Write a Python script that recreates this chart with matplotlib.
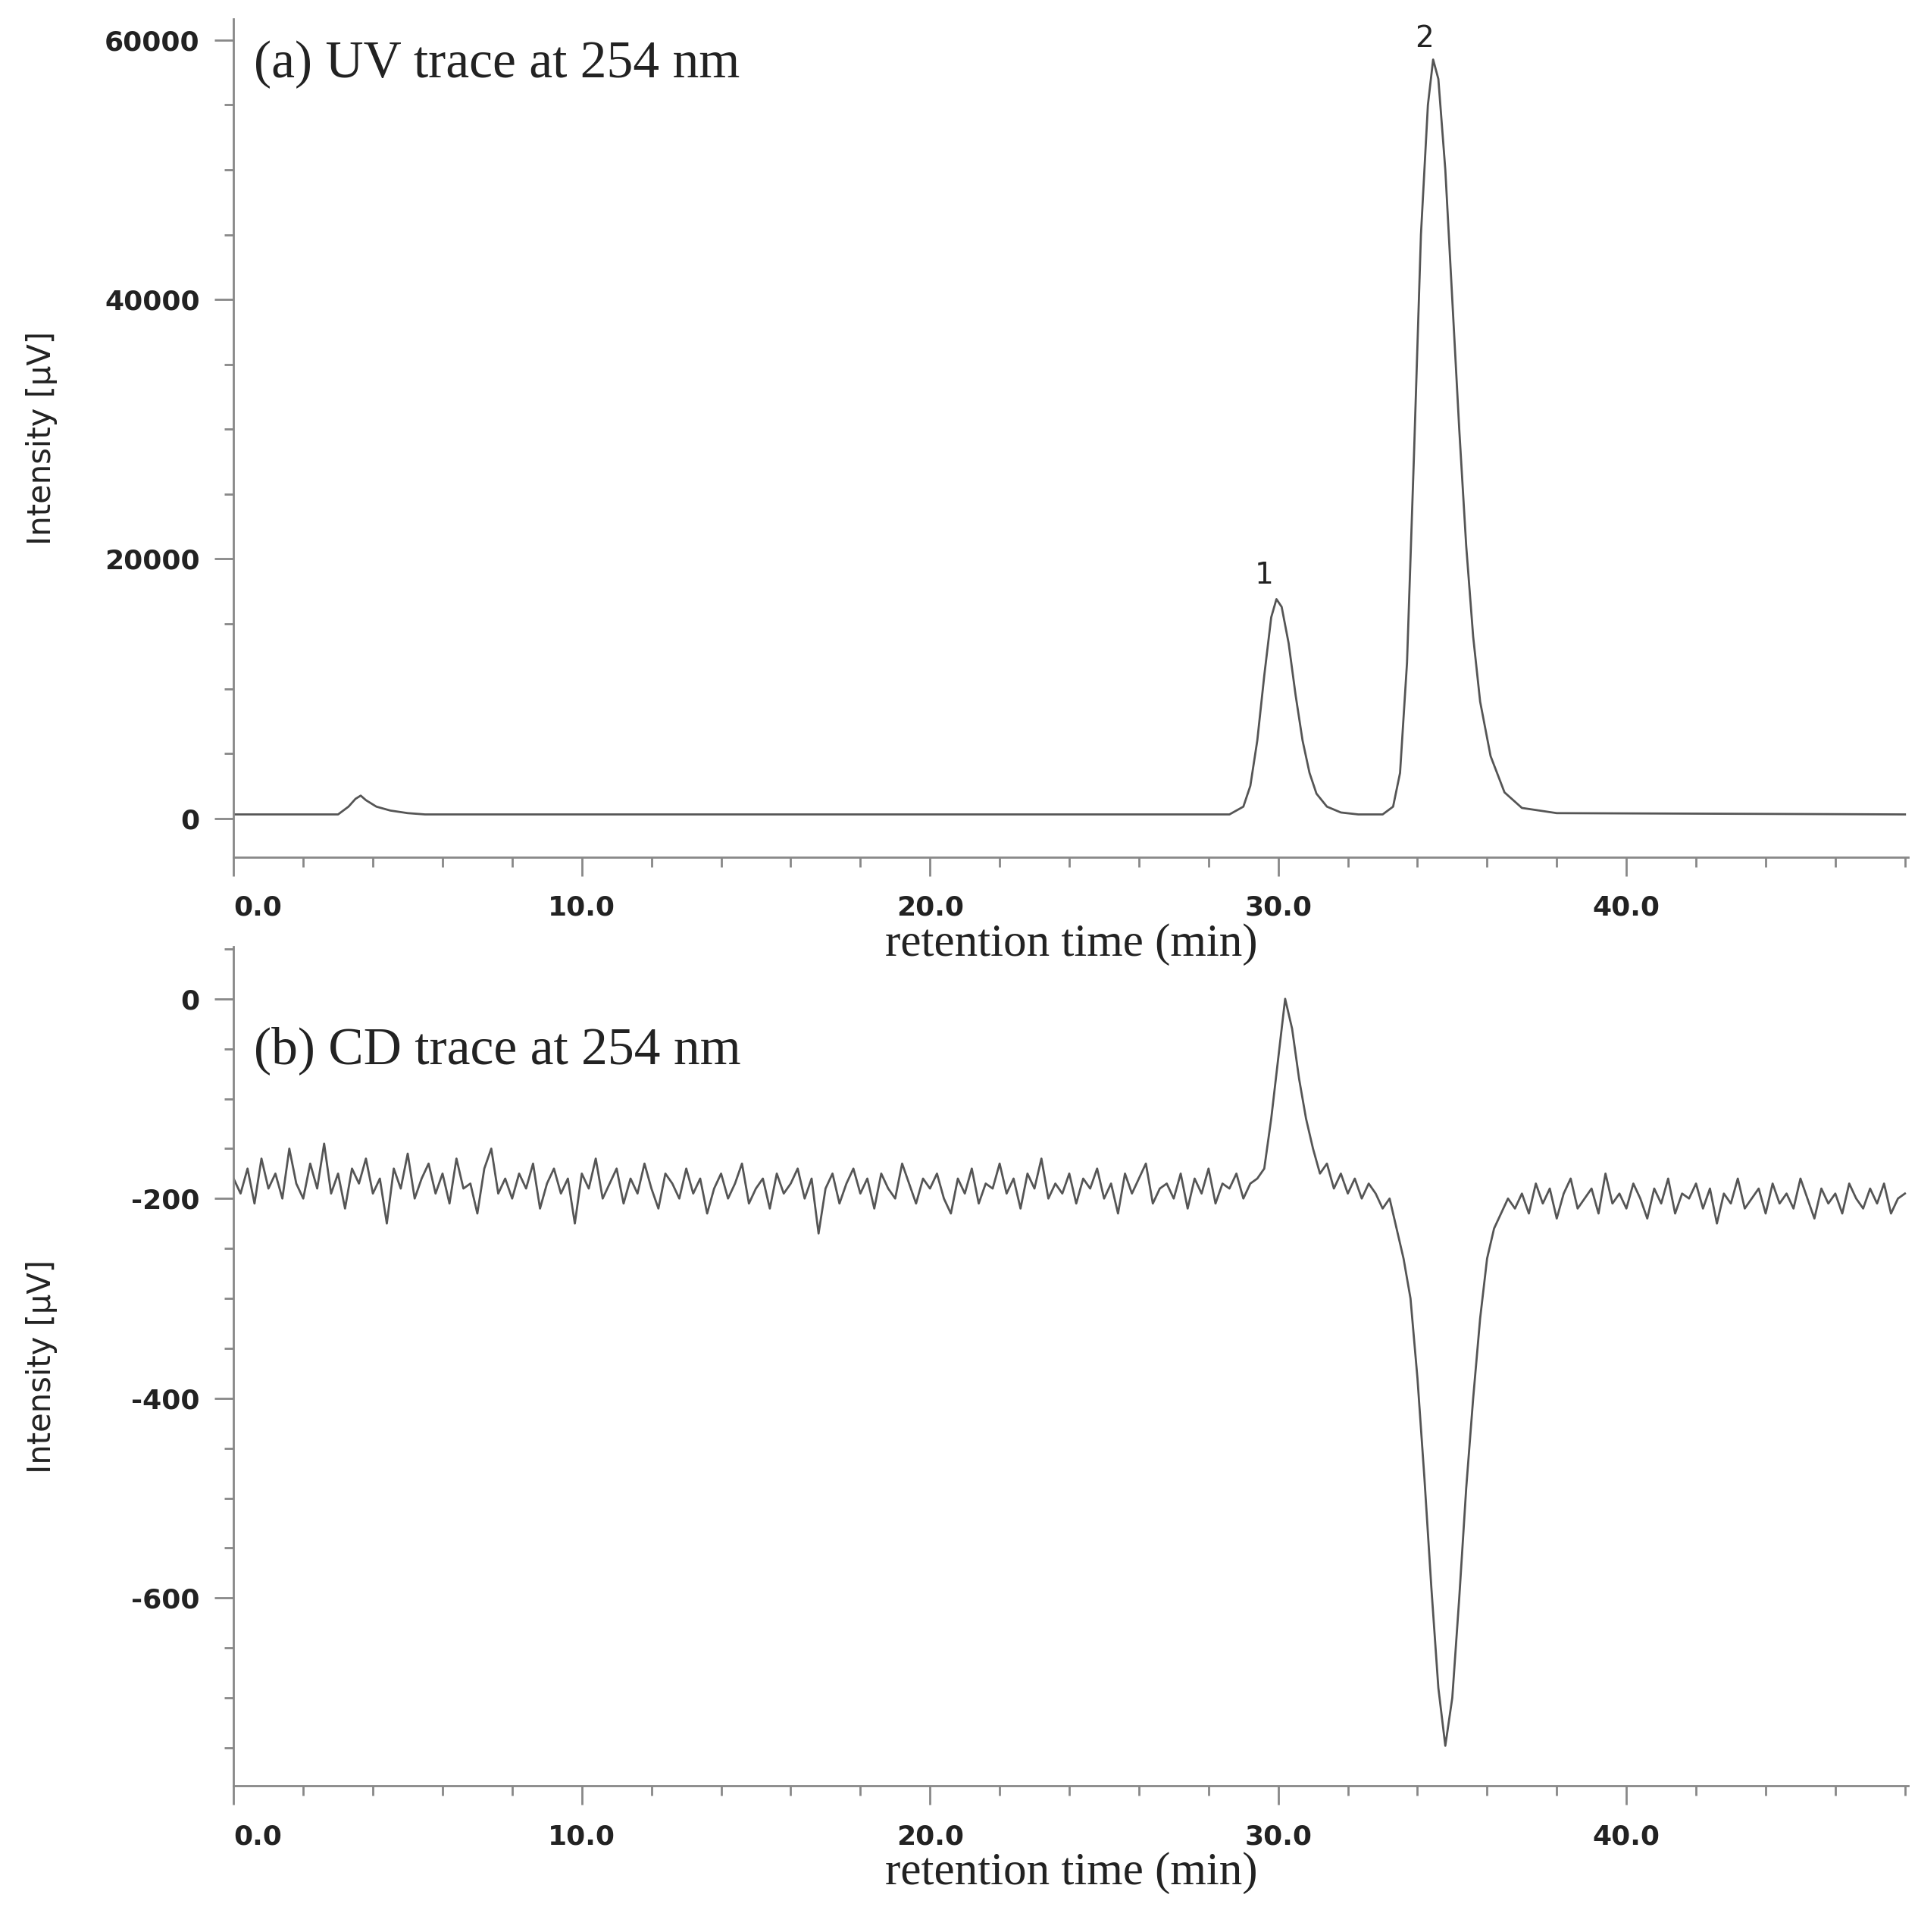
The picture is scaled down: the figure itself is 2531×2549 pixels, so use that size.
import numpy as np
import matplotlib
matplotlib.use("Agg")
import matplotlib.pyplot as plt
from matplotlib.ticker import MultipleLocator

plt.rcParams["axes.unicode_minus"] = False

uv_t = [0, 3.0, 3.3, 3.5, 3.65, 3.8, 4.1, 4.5, 5.0, 5.5, 28.6, 29.0, 29.2, 29.4, 29.6, 29.8, 29.95, 30.1, 30.3, 30.5, 30.7, 30.9, 31.1, 31.4, 31.8, 32.3, 33.0, 33.3, 33.5, 33.7, 33.9, 34.1, 34.3, 34.45, 34.6, 34.8, 35.0, 35.2, 35.4, 35.6, 35.8, 36.1, 36.5, 37.0, 38.0, 48.0]
uv_v = [300, 300, 900, 1500, 1750, 1400, 900, 600, 400, 300, 300, 900, 2500, 6000, 11000, 15500, 16900, 16300, 13500, 9500, 6000, 3500, 1900, 900, 450, 300, 300, 900, 3500, 12000, 28000, 45000, 55000, 58500, 57000, 50000, 40000, 30000, 21000, 14000, 9000, 4800, 2000, 800, 400, 300]

cd_step = 0.2
cd_v = [
-180,-195,-170,-205,-160,-190,-175,-200,-150,-185,
-200,-165,-190,-145,-195,-175,-210,-170,-185,-160,
-195,-180,-225,-170,-190,-155,-200,-180,-165,-195,
-175,-205,-160,-190,-185,-215,-170,-150,-195,-180,
-200,-175,-190,-165,-210,-185,-170,-195,-180,-225,
-175,-190,-160,-200,-185,-170,-205,-180,-195,-165,
-190,-210,-175,-185,-200,-170,-195,-180,-215,-190,
-175,-200,-185,-165,-205,-190,-180,-210,-175,-195,
-185,-170,-200,-180,-235,-190,-175,-205,-185,-170,
-195,-180,-210,-175,-190,-200,-165,-185,-205,-180,
-190,-175,-200,-215,-180,-195,-170,-205,-185,-190,
-165,-195,-180,-210,-175,-190,-160,-200,-185,-195,
-175,-205,-180,-190,-170,-200,-185,-215,-175,-195,
-180,-165,-205,-190,-185,-200,-175,-210,
-180,-195,-170,-205,-185,-190,-175,-200,-185,-180,
-170,-120,-60,0,-30,-80,-120,-150,-175,-165,
-190,-175,-195,-180,-200,-185,-195,-210,-200,-230,
-260,-300,-380,-480,-590,-690,-748,-700,-600,-490,
-400,-320,-260,-230,-215,-200,
-210,-195,-215,-185,-205,-190,-220,-195,-180,-210,
-200,-190,-215,-175,-205,-195,-210,-185,-200,-220,
-190,-205,-180,-215,-195,-200,-185,-210,-190,-225,
-195,-205,-180,-210,-200,-190,-215,-185,-205,-195,
-210,-180,-200,-220,-190,-205,-195,-215,-185,-200,
-210,-190,-205,-185,-215,-200,-195]
cd_t = np.arange(len(cd_v)) * cd_step

xticks = [0, 10, 20, 30, 40]
xticklabels = ["0.0", "10.0", "20.0", "30.0", "40.0"]

fig = plt.figure(figsize=(25.31, 25.49), dpi=100)
ax1 = fig.add_axes([0.1218, 0.5563, 0.8732, 0.4337])
ax2 = fig.add_axes([0.1218, 0.0757, 0.8732, 0.4342])
ax2.patch.set_alpha(0)
col = "#555555"
serif = "Liberation Serif"

def style(ax, ymaj, ymin):
    for s in ["top", "right"]:
        ax.spines[s].set_visible(False)
    ax.spines["left"].set_color("#888888")
    ax.spines["bottom"].set_color("#888888")
    ax.spines["left"].set_linewidth(2)
    ax.spines["bottom"].set_linewidth(2)
    ax.set_xlim(0, 48.1)
    ax.set_xticks(xticks)
    ax.set_xticklabels(xticklabels)
    ax.get_xticklabels()[0].set_ha("left")
    ax.xaxis.set_minor_locator(MultipleLocator(2))
    ax.yaxis.set_major_locator(MultipleLocator(ymaj))
    ax.yaxis.set_minor_locator(MultipleLocator(ymin))
    ax.tick_params(which="major", length=18, width=2, color="#888888", labelsize=26)
    ax.tick_params(axis="x", which="major", pad=18)
    ax.tick_params(axis="y", which="major", pad=14)
    ax.tick_params(which="minor", length=9, width=2, color="#888888")
    for lab in ax.get_xticklabels() + ax.get_yticklabels():
        lab.set_fontweight("bold")
        lab.set_color("#222222")
    ax.set_xlabel("retention time (min)", fontsize=44, family=serif, labelpad=2, color="#222222")
    ax.set_ylabel("Intensity [µV]", fontsize=30, color="#222222")
    ax.yaxis.set_label_coords(-0.105, 0.5)

ax1.plot(uv_t, uv_v, color=col, lw=2)
ax1.set_ylim(-3000, 61600)
style(ax1, 20000, 5000)
ax1.text(0.012, 0.975, "(a) UV trace at 254 nm", transform=ax1.transAxes, fontsize=50,
         family=serif, va="top", color="#222222")
ax1.text(29.6, 17600, "1", fontsize=28, ha="center", va="bottom", color="#222222")
ax1.text(34.2, 59000, "2", fontsize=28, ha="center", va="bottom", color="#222222")

ax2.plot(cd_t, cd_v, color=col, lw=2)
ax2.set_ylim(-788, 52)
style(ax2, 200, 50)
ax2.text(0.012, 0.905, "(b) CD trace at 254 nm", transform=ax2.transAxes, fontsize=50,
         family=serif, va="top", color="#222222")

fig.savefig("out.png", dpi=100)
